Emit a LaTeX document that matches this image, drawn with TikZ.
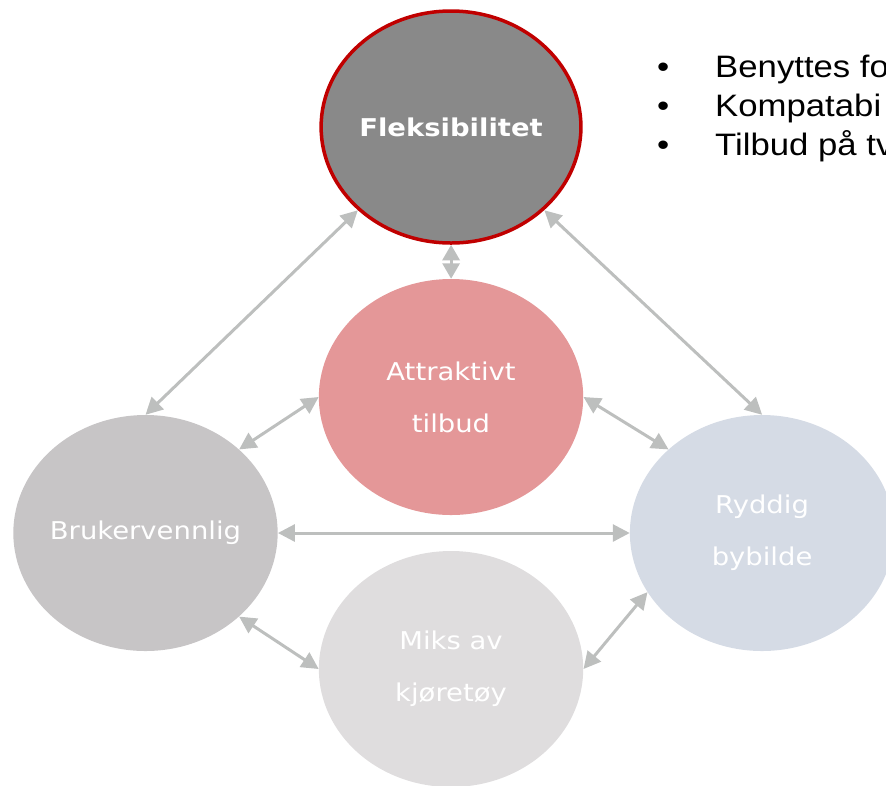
\documentclass[tikz,border=0pt]{standalone}
\usepackage{fontspec}
\setmainfont{DejaVu Sans}
\newfontfamily\arialfont{Liberation Sans}
\usetikzlibrary{arrows.meta}
\definecolor{flekfill}{HTML}{898989}
\definecolor{flekborder}{HTML}{C00000}
\definecolor{attrfill}{HTML}{E49798}
\definecolor{brukfill}{HTML}{C7C5C6}
\definecolor{rydfill}{HTML}{D5DBE5}
\definecolor{miksfill}{HTML}{DFDDDE}
\definecolor{linkgray}{HTML}{BDBFBE}
\begin{document}
\begin{tikzpicture}[x=1pt,y=-1pt,xscale=1.12,
  every node/.style={transform shape},
  bubble/.style={circle, minimum size=236pt, inner sep=0pt, text=white,
    font=\fontsize{24.5}{52}\selectfont, align=center},
  link/.style={draw=linkgray, line width=3pt,
    {Triangle[length=17pt,width=17pt]}-{Triangle[length=17pt,width=17pt]}},
  shortlink/.style={draw=linkgray, line width=3pt,
    {Triangle[length=15.5pt,width=17pt]}-{Triangle[length=15.5pt,width=17pt]}},
  bullettext/.style={anchor=base west, inner sep=0pt,
    font=\arialfont\fontsize{31}{36}\selectfont}
]
\useasboundingbox (0,0) rectangle (791.07,785);
\begin{scope}
\clip (0,0) rectangle (791.07,785);
\node[bubble, fill=flekfill, draw=flekborder, line width=3.5pt, minimum size=232pt,
  font=\bfseries\fontsize{24.5}{52}\selectfont] (F) at (402.7,127) {Fleksibilitet};
\node[bubble, fill=attrfill] (A) at (402.7,397) {Attraktivt\\tilbud};
\node[bubble, fill=brukfill] (B) at (129.9,533) {Brukervennlig};
\node[bubble, fill=rydfill] (R) at (680.4,533) {Ryddig\\bybilde};
\node[bubble, fill=miksfill] (M) at (402.7,669) {Miks av\\kjøretøy};

\draw[link] (F.225) -- (B.90);
\draw[link] (F.315) -- (R.90);
\draw[shortlink] (F.270) -- (A.90);
\draw[link] (A.180) -- (B.45);
\draw[link] (A.0) -- (R.135);
\draw[link] (B.0) -- (R.180);
\draw[link] (B.315) -- (M.180);
\draw[link] (R.210) -- (M.0);

\node[bullettext] (d1) at (586.6,77) {•};
\node[bullettext] (d2) at (586.6,116) {•};
\node[bullettext] (d3) at (586.6,155) {•};
\node[bullettext] (t1) at (638.4,77) {Benyttes fo};
\node[bullettext] (t2) at (638.4,116) {Kompatabi};
\node[bullettext] (t3) at (638.4,155) {Tilbud på tv};
\end{scope}
\end{tikzpicture}
\end{document}
